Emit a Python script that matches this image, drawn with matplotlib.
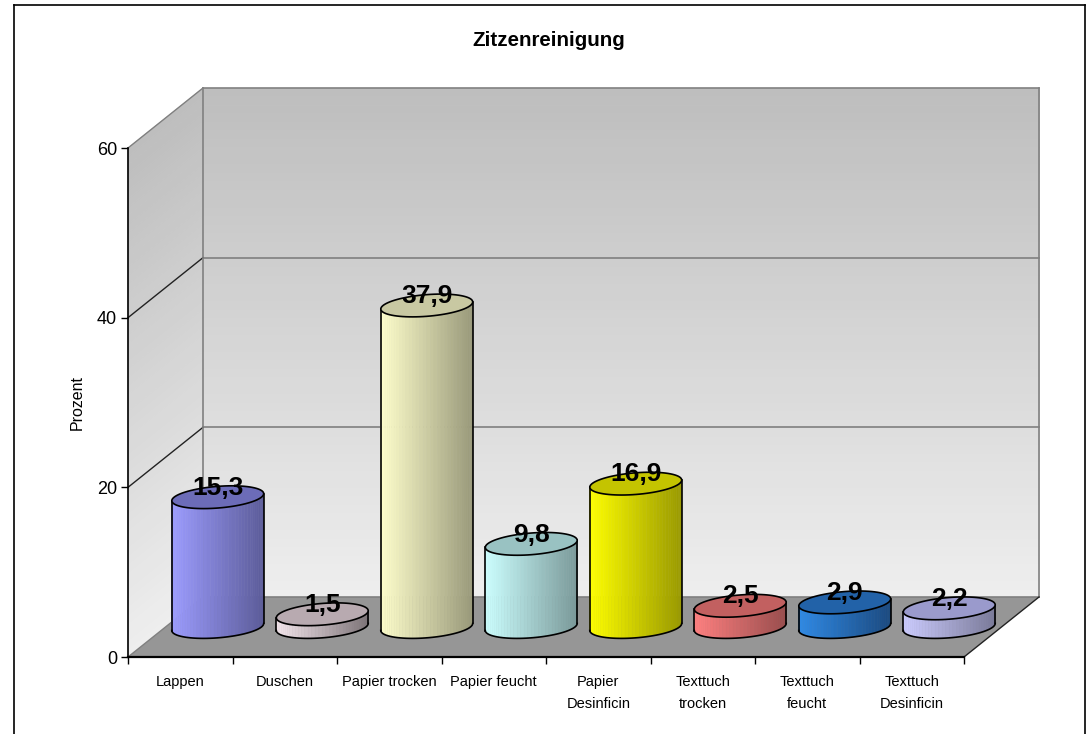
#! /usr/bin/env python3
# -*- coding: utf-8 -*-
import numpy as np
import matplotlib
matplotlib.use('Agg')
import matplotlib.pyplot as plt
from matplotlib.colors import to_rgb
from matplotlib.lines import Line2D

plt.rcParams['font.family'] = ['Liberation Sans', 'DejaVu Sans']

title = 'Zitzenreinigung'
y_label = 'Prozent'
categories = ['Lappen', 'Duschen', 'Papier trocken', 'Papier feucht', 'Papier\nDesinficin',
              'Texttuch\ntrocken', 'Texttuch\nfeucht', 'Texttuch\nDesinficin']
values = [15.3, 1.5, 37.9, 9.8, 16.9, 2.5, 2.9, 2.2]
value_labels = ['15,3', '1,5', '37,9', '9,8', '16,9', '2,5', '2,9', '2,2']
y_ticks = [0, 20, 40, 60]
left_colors = ['#9c9cff', '#f4e6ec', '#ffffcc', '#ccffff', '#ffff00', '#ff8080', '#2f8ae6', '#ccccff']
right_colors = ['#5c5c99', '#7d7478', '#99997a', '#7a9999', '#999900', '#994d4d', '#1b4a80', '#7a7a99']
top_colors = ['#6c6cb8', '#b8aab0', '#c8c8a2', '#99c2c2', '#c4c400', '#c26060', '#2262a8', '#9a9acc']

# oblique depth, in data units: the back wall sits 75 px right and 60 px up
DX = 75 / 104.5
DY = 60 / 8.483
R_X = 0.418
R_D = 0.19


def proj(x, v, d):
    return x + d * DX, v + d * DY


def mix(c1, c2, f):
    return tuple((1 - f) * np.array(to_rgb(c1)) + f * np.array(to_rgb(c2)))


def plot_walls(ax):
    bands = np.linspace(0, 60, 61)
    for low, high in zip(bands[:-1], bands[1:]):
        col = mix('#eeeeee', '#bdbdbd', low / 60)
        xs, ys = proj(np.array([0, 8, 8, 0]), np.array([low, low, high, high]), 1)
        ax.fill(xs, ys, color=col, lw=0.5, zorder=1, clip_on=False)
        xs, ys = proj(np.zeros(4), np.array([low, low, high, high]), np.array([0, 1, 1, 0]))
        ax.fill(xs, ys, color=col, lw=0.5, zorder=1, clip_on=False)
    # floor
    xs, ys = proj(np.array([0, 8, 8, 0]), np.zeros(4), np.array([0, 0, 1, 1]))
    ax.fill(xs, ys, color='#969696', lw=0, zorder=1.2, clip_on=False)
    # grid lines
    for tick in y_ticks:
        xs, ys = proj(np.array([0, 0, 8]), np.full(3, tick), np.array([0, 1, 1]))
        top = tick == y_ticks[-1]
        ax.plot(xs[1:], ys[1:], color='#808080', lw=1.2, zorder=1.5, clip_on=False)
        ax.plot(xs[:2], ys[:2], color='#808080' if top or tick == 0 else '#222222',
                lw=1.0, zorder=1.5, clip_on=False)
    xs, ys = proj(np.array([0, 0]), np.array([0, 60]), 1)
    ax.plot(xs, ys, color='#808080', lw=1.2, zorder=1.5, clip_on=False)
    xs, ys = proj(np.array([8, 8]), np.array([0, 60]), 1)
    ax.plot(xs, ys, color='#808080', lw=1.2, zorder=1.5, clip_on=False)
    xs, ys = proj(np.array([8, 8]), np.zeros(2), np.array([0, 1]))
    ax.plot(xs, ys, color='#222222', lw=1.0, zorder=1.5, clip_on=False)


def plot_cylinder(ax, i, value, c_left, c_right, c_top, label):
    # front half of the rim, between the two silhouette points of the sheared circle
    phi = np.arctan2(R_D * DX, R_X)
    t = np.linspace(np.pi + phi, 2 * np.pi + phi, 41)
    cx = i + 0.5
    edge_x = cx + R_X * np.cos(t)
    edge_d = 0.5 + R_D * np.sin(t)
    x0, y0 = proj(edge_x, np.zeros_like(t), edge_d)
    x1, y1 = proj(edge_x, np.full_like(t, value), edge_d)
    # body shading, one strip per facet, colour follows the horizontal position
    for k in range(len(t) - 1):
        f = ((x0[k] + x0[k + 1]) / 2 - x0[0]) / (x0[-1] - x0[0])
        col = mix(c_left, c_right, f)
        ax.fill([x0[k], x0[k + 1], x1[k + 1], x1[k]], [y0[k], y0[k + 1], y1[k + 1], y1[k]],
                color=col, lw=0.4, zorder=3, clip_on=False)
    ax.plot(x0, y0, color='black', lw=1.2, zorder=3.2, clip_on=False)
    ax.plot([x0[0], x1[0]], [y0[0], y1[0]], color='black', lw=1.2, zorder=3.2, clip_on=False)
    ax.plot([x0[-1], x1[-1]], [y0[-1], y1[-1]], color='black', lw=1.2, zorder=3.2, clip_on=False)
    # top cap
    t_top = np.linspace(0, 2 * np.pi, 81)
    xs, ys = proj(cx + R_X * np.cos(t_top), np.full_like(t_top, value), 0.5 + R_D * np.sin(t_top))
    ax.fill(xs, ys, facecolor=c_top, edgecolor='black', lw=1.2, zorder=3.3, clip_on=False)
    lx, ly = proj(cx, value + 1.1, 0.5)
    ax.text(lx, ly, label, ha='center', va='center', fontsize=19, fontweight='bold',
            color='black', zorder=4, clip_on=False)


def main():
    fig = plt.figure(figsize=(10.87, 7.34), dpi=100, facecolor='white')
    ax = fig.add_axes([128 / 1087, 77 / 734, 836 / 1087, 509 / 734])
    ax.patch.set_visible(False)
    ax.set_xlim(0, 8)
    ax.set_ylim(0, 60)

    plot_walls(ax)
    for i in range(len(values)):
        plot_cylinder(ax, i, values[i], left_colors[i], right_colors[i], top_colors[i], value_labels[i])

    ax.spines['top'].set_visible(False)
    ax.spines['right'].set_visible(False)
    ax.spines['left'].set_linewidth(1.2)
    ax.spines['bottom'].set_linewidth(1.6)
    ax.set_yticks(y_ticks)
    ax.tick_params(axis='y', length=5, width=1, pad=3, labelsize=13)
    ax.set_xticks(range(len(categories) + 1))
    ax.set_xticklabels([])
    ax.tick_params(axis='x', which='major', length=5, width=1)
    ax.set_xticks(np.arange(len(categories)) + 0.5, minor=True)
    ax.set_xticklabels(categories, minor=True, fontsize=10.5, linespacing=1.75, va='top')
    ax.tick_params(axis='x', which='minor', length=0, pad=13)

    fig.text(77 / 1087, 1 - 403 / 734, y_label, rotation=90, fontsize=11.5, ha='center', va='center')
    fig.text(549 / 1087, 1 - 40 / 734, title, fontsize=14.8, fontweight='bold', ha='center', va='center')

    # chart frame, its bottom edge is cut off by the picture
    for xs, ys in [((14, 14), (734, 5)), ((14, 1085), (5, 5)), ((1085, 1085), (5, 734))]:
        fig.add_artist(Line2D(np.array(xs) / 1087, 1 - np.array(ys) / 734, color='black', lw=1.2))

    fig.savefig('out.png', dpi=100)


if __name__ == '__main__':
    main()
